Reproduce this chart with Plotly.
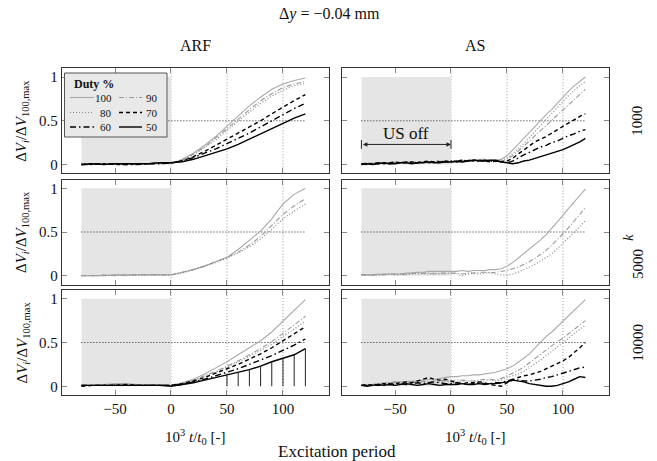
import plotly.graph_objects as go
from plotly.subplots import make_subplots

W, H = 657, 461
FONT = "Liberation Serif, Times New Roman, serif"

# ---------------- data ----------------
X10 = [-80, -70, -60, -50, -40, -30, -20, -10, 0, 10, 20, 30, 40, 50, 60, 70, 80, 90, 100, 110, 120]
X5 = [-80, -75, -70, -65, -60, -55, -50, -45, -40, -35, -30, -25, -20, -15, -10, -5, 0,
      5, 10, 15, 20, 25, 30, 35, 40, 45, 50, 55, 60, 65, 70, 75, 80, 85, 90, 95, 100, 105, 110, 115, 120]
DUTIES = [100, 90, 80, 70, 60, 50]

ARF1000_100 = [0.00,0.01,0.01,0.00,0.01,0.01,0.01,0.02,0.01,0.06,0.13,0.22,0.32,0.44,0.56,0.67,0.77,0.86,0.92,0.96,0.99]
ARF1000_90 = [0.00,0.00,0.01,0.01,0.00,0.01,0.01,0.01,0.01,0.05,0.12,0.20,0.30,0.41,0.52,0.63,0.73,0.81,0.88,0.92,0.95]
ARF1000_80 = [0.00,0.01,0.00,0.01,0.01,0.00,0.01,0.02,0.01,0.05,0.11,0.19,0.28,0.39,0.50,0.60,0.70,0.78,0.85,0.90,0.93]
ARF1000_70 = [0.00,0.01,0.01,0.00,0.00,0.01,0.01,0.02,0.02,0.04,0.09,0.15,0.22,0.29,0.36,0.43,0.50,0.58,0.66,0.73,0.80]
ARF1000_60 = [0.00,0.00,0.01,0.01,0.00,0.00,0.01,0.01,0.02,0.04,0.08,0.13,0.18,0.24,0.30,0.36,0.43,0.50,0.57,0.64,0.70]
ARF1000_50 = [0.00,0.01,0.00,0.01,0.01,0.01,0.01,0.02,0.02,0.03,0.06,0.10,0.14,0.18,0.23,0.29,0.35,0.41,0.47,0.53,0.58]

ARF5000_100 = [0.00,0.00,0.00,0.01,0.01,0.01,0.01,0.01,0.01,0.04,0.07,0.11,0.16,0.21,0.30,0.40,0.51,0.65,0.82,0.93,1.00]
ARF5000_90 = [0.00,0.00,0.01,0.00,0.01,0.01,0.01,0.01,0.01,0.04,0.07,0.11,0.16,0.21,0.27,0.35,0.45,0.57,0.70,0.80,0.88]
ARF5000_80 = [0.00,0.00,0.00,0.01,0.00,0.01,0.01,0.01,0.01,0.03,0.07,0.11,0.15,0.20,0.26,0.33,0.42,0.53,0.65,0.74,0.82]

ARF10000_100 = [0.01,0.01,0.02,0.03,0.03,0.02,0.02,0.02,0.01,0.04,0.08,0.14,0.21,0.28,0.36,0.44,0.52,0.62,0.74,0.86,0.99]
ARF10000_90 = [0.01,0.01,0.02,0.02,0.02,0.02,0.01,0.02,0.01,0.03,0.07,0.12,0.17,0.23,0.29,0.36,0.43,0.51,0.60,0.70,0.80]
ARF10000_80 = [0.01,0.01,0.01,0.02,0.02,0.02,0.02,0.01,0.01,0.03,0.06,0.11,0.16,0.22,0.28,0.34,0.41,0.48,0.57,0.65,0.74]
ARF10000_70 = [0.00,0.01,0.01,0.01,0.02,0.01,0.01,0.01,0.01,0.03,0.06,0.10,0.15,0.20,0.25,0.31,0.37,0.44,0.52,0.60,0.68]
ARF10000_60 = [0.01,0.01,0.01,0.01,0.01,0.01,0.01,0.01,0.01,0.02,0.05,0.08,0.12,0.16,0.20,0.25,0.30,0.35,0.41,0.47,0.54]
ARF10000_50 = [0.01,0.01,0.01,0.01,0.01,0.01,0.01,0.01,0.00,0.02,0.04,0.07,0.10,0.13,0.16,0.19,0.23,0.28,0.32,0.36,0.43]
STEM_X = [50, 60, 70, 80, 90, 100, 110, 120]

AS1000_100 = [0.01,0.01,0.02,0.01,0.02,0.02,0.03,0.02,0.03,0.03,0.02,0.03,0.03,0.02,0.03,0.03,0.03,
              0.03,0.04,0.04,0.05,0.06,0.06,0.05,0.05,0.06,0.10,0.16,0.23,0.30,0.37,0.43,0.50,0.57,0.63,0.70,0.78,0.84,0.90,0.95,1.00]
AS1000_90 = [0.01,0.02,0.01,0.02,0.01,0.02,0.02,0.03,0.02,0.02,0.03,0.02,0.03,0.03,0.04,0.03,0.03,
             0.04,0.03,0.04,0.05,0.05,0.04,0.05,0.04,0.04,0.06,0.10,0.15,0.21,0.27,0.33,0.39,0.45,0.51,0.57,0.63,0.69,0.75,0.81,0.86]
AS1000_80 = [0.01,0.01,0.01,0.02,0.02,0.01,0.02,0.02,0.03,0.02,0.03,0.03,0.02,0.03,0.03,0.04,0.03,
             0.03,0.04,0.05,0.04,0.05,0.05,0.04,0.05,0.05,0.07,0.12,0.18,0.24,0.31,0.38,0.45,0.52,0.59,0.66,0.73,0.79,0.85,0.90,0.95]
AS1000_70 = [0.00,0.01,0.01,0.02,0.01,0.02,0.03,0.02,0.02,0.03,0.02,0.03,0.04,0.03,0.03,0.04,0.03,
             0.04,0.05,0.04,0.05,0.05,0.04,0.03,0.04,0.03,0.04,0.07,0.12,0.17,0.21,0.26,0.29,0.32,0.36,0.40,0.44,0.48,0.52,0.55,0.58]
AS1000_60 = [0.01,0.00,0.01,0.01,0.02,0.01,0.02,0.02,0.03,0.02,0.02,0.03,0.02,0.03,0.04,0.03,0.04,
             0.03,0.04,0.05,0.04,0.04,0.05,0.04,0.04,0.03,0.02,0.04,0.08,0.11,0.14,0.17,0.20,0.22,0.25,0.27,0.30,0.33,0.35,0.38,0.40]
AS1000_50 = [0.00,0.01,0.00,0.01,0.02,0.01,0.01,0.02,0.02,0.01,0.02,0.02,0.03,0.02,0.02,0.03,0.03,
             0.04,0.03,0.04,0.05,0.04,0.04,0.05,0.05,0.03,0.02,0.01,0.02,0.04,0.05,0.07,0.09,0.11,0.13,0.15,0.17,0.20,0.23,0.26,0.30]

AS5000_100 = [0.01,0.01,0.01,0.02,0.01,0.02,0.02,0.02,0.03,0.03,0.04,0.04,0.05,0.05,0.05,0.05,0.05,
              0.05,0.06,0.05,0.06,0.06,0.06,0.07,0.07,0.08,0.11,0.15,0.20,0.25,0.31,0.36,0.41,0.47,0.54,0.61,0.69,0.77,0.84,0.92,0.99]
AS5000_90 = [0.01,0.01,0.01,0.01,0.02,0.02,0.02,0.01,0.02,0.03,0.02,0.03,0.03,0.02,0.03,0.03,0.03,
             0.03,0.02,0.03,0.03,0.04,0.04,0.03,0.04,0.05,0.06,0.08,0.10,0.13,0.16,0.20,0.24,0.29,0.35,0.41,0.48,0.55,0.62,0.70,0.78]
AS5000_80 = [0.01,0.01,0.00,0.01,0.01,0.02,0.01,0.02,0.01,0.02,0.03,0.02,0.02,0.03,0.02,0.02,0.03,
             0.02,0.00,0.02,0.03,0.02,0.03,0.04,0.02,0.01,0.01,0.02,0.04,0.07,0.10,0.13,0.17,0.21,0.25,0.31,0.37,0.44,0.50,0.56,0.63]

AS10000_100 = [0.01,0.01,0.02,0.03,0.04,0.04,0.05,0.05,0.05,0.06,0.06,0.07,0.08,0.08,0.09,0.10,0.11,
               0.11,0.12,0.12,0.13,0.13,0.14,0.15,0.16,0.18,0.20,0.23,0.27,0.32,0.37,0.44,0.51,0.57,0.62,0.68,0.74,0.80,0.86,0.93,0.99]
AS10000_90 = [0.01,0.02,0.02,0.03,0.03,0.04,0.05,0.04,0.05,0.04,0.05,0.06,0.05,0.06,0.07,0.06,0.06,
              0.07,0.07,0.06,0.06,0.07,0.08,0.08,0.07,0.09,0.12,0.15,0.18,0.22,0.27,0.32,0.37,0.41,0.46,0.51,0.55,0.60,0.65,0.70,0.75]
AS10000_80 = [0.01,0.01,0.02,0.02,0.03,0.03,0.04,0.03,0.04,0.05,0.04,0.05,0.05,0.04,0.05,0.06,0.05,
              0.05,0.06,0.06,0.06,0.05,0.06,0.07,0.06,0.07,0.10,0.12,0.14,0.17,0.21,0.25,0.30,0.35,0.40,0.45,0.49,0.54,0.59,0.64,0.70]
AS10000_70 = [0.01,0.02,0.01,0.02,0.03,0.02,0.03,0.04,0.05,0.04,0.06,0.08,0.10,0.08,0.07,0.08,0.06,
              0.04,0.03,0.04,0.04,0.05,0.04,0.02,0.01,0.00,0.04,0.07,0.10,0.12,0.13,0.15,0.17,0.20,0.23,0.26,0.29,0.33,0.38,0.44,0.50]
AS10000_60 = [0.01,0.01,0.02,0.01,0.02,0.03,0.02,0.03,0.02,0.03,0.04,0.03,0.04,0.05,0.04,0.03,0.03,
              0.04,0.03,0.02,0.03,0.04,0.03,0.03,0.04,0.04,0.06,0.08,0.07,0.06,0.06,0.07,0.08,0.10,0.11,0.13,0.15,0.17,0.19,0.21,0.22]
AS10000_50 = [0.01,0.00,0.01,0.02,0.01,0.02,0.01,0.02,0.03,0.02,0.01,0.02,0.03,0.02,0.01,0.02,0.02,
              0.02,0.03,0.02,0.02,0.03,0.02,0.03,0.03,0.04,0.05,0.07,0.06,0.05,0.03,0.02,0.01,0.00,0.00,0.01,0.03,0.05,0.08,0.11,0.10]

X_TICKS = [-50, 0, 50, 100]
Y_TICKS = [0, 0.5, 1]
Y_TICKTEXT = ["0", "0.5", "1"]
V_GUIDES = [0, 50, 100]
H_GUIDE = 0.5
SHADE_X = [-80, 0]
SHADE_Y = [0, 1]
X_RANGE = [-97.5, 141]
Y_RANGE = [-0.1, 1.1]
K_LABELS = ["1000", "5000", "10000"]

# ---------------- styles ----------------
STYLE = {
    100: dict(color="#aaaaaa", width=1.1, dash="solid"),
    90: dict(color="#999999", width=1.1, dash="5px,2px,1px,2px"),
    80: dict(color="#8a8a8a", width=1.2, dash="1px,2px"),
    70: dict(color="#000000", width=1.4, dash="4px,3px"),
    60: dict(color="#000000", width=1.4, dash="6px,3px,1.5px,3px"),
    50: dict(color="#000000", width=1.4, dash="solid"),
}

panels = {
    (1, 1): (X10, {100: ARF1000_100, 90: ARF1000_90, 80: ARF1000_80, 70: ARF1000_70, 60: ARF1000_60, 50: ARF1000_50}),
    (1, 2): (X5, {100: AS1000_100, 90: AS1000_90, 80: AS1000_80, 70: AS1000_70, 60: AS1000_60, 50: AS1000_50}),
    (2, 1): (X10, {100: ARF5000_100, 90: ARF5000_90, 80: ARF5000_80}),
    (2, 2): (X5, {100: AS5000_100, 90: AS5000_90, 80: AS5000_80}),
    (3, 1): (X10, {100: ARF10000_100, 90: ARF10000_90, 80: ARF10000_80, 70: ARF10000_70, 60: ARF10000_60, 50: ARF10000_50}),
    (3, 2): (X5, {100: AS10000_100, 90: AS10000_90, 80: AS10000_80, 70: AS10000_70, 60: AS10000_60, 50: AS10000_50}),
}

def px(x):
    return x / W

def py(y):
    return 1 - y / H

X_DOM = {1: [px(61.8), px(328.9)], 2: [px(341.8), px(608.9)]}
Y_DOM = {1: [py(173.3), py(68.3)], 2: [py(284.5), py(179.5)], 3: [py(395.0), py(290.0)]}

fig = make_subplots(rows=3, cols=2)

def axis_id(r, c):
    return (r - 1) * 2 + c

shapes = []
for (r, c), (xs, series) in panels.items():
    n = axis_id(r, c)
    xr = "x" if n == 1 else f"x{n}"
    yr = "y" if n == 1 else f"y{n}"
    shapes.append(dict(type="rect", xref=xr, yref=yr, x0=SHADE_X[0], x1=SHADE_X[1],
                       y0=SHADE_Y[0], y1=SHADE_Y[1], fillcolor="#e5e5e5", line=dict(width=0), layer="below"))
    for v in V_GUIDES:
        shapes.append(dict(type="line", xref=xr, yref=f"{yr} domain", x0=v, x1=v, y0=0, y1=1,
                           line=dict(color="#9a9a9a", width=1, dash="1px,2px"), layer="below"))
    shapes.append(dict(type="line", xref=xr, yref=yr, x0=SHADE_X[0], x1=max(xs), y0=H_GUIDE, y1=H_GUIDE,
                       line=dict(color="#222222", width=1, dash="1px,2px"), layer="below"))
    for d in DUTIES:
        if d in series:
            st = STYLE[d]
            fig.add_trace(go.Scatter(x=xs, y=series[d], mode="lines", showlegend=False, hoverinfo="skip",
                                     line=dict(color=st["color"], width=st["width"], dash=st["dash"])),
                          row=r, col=c)

# comb lines under the 50 % curve (ARF, k = 10000)
sx, sy = [], []
for xv in STEM_X:
    v = ARF10000_50[X10.index(xv)]
    sx += [xv, xv, None]
    sy += [0, v, None]
fig.add_trace(go.Scatter(x=sx, y=sy, mode="lines", showlegend=False, hoverinfo="skip",
                         line=dict(color="#222222", width=1)), row=3, col=1)

for r in (1, 2, 3):
    for c in (1, 2):
        fig.update_xaxes(row=r, col=c, domain=X_DOM[c], range=X_RANGE, tickvals=X_TICKS,
                         showticklabels=(r == 3), ticks="inside", ticklen=5, tickcolor="#888888",
                         showline=True, linecolor="#333333", linewidth=1, mirror="ticks",
                         showgrid=False, zeroline=False,
                         tickfont=dict(family=FONT, size=15, color="#111111"))
        fig.update_yaxes(row=r, col=c, domain=Y_DOM[r], range=Y_RANGE, tickvals=Y_TICKS, ticktext=Y_TICKTEXT,
                         showticklabels=(c == 1), ticks="inside", ticklen=5, tickcolor="#888888",
                         showline=True, linecolor="#333333", linewidth=1, mirror="ticks",
                         showgrid=False, zeroline=False,
                         tickfont=dict(family=FONT, size=15, color="#111111"))

# "US off" arrow in AS, k=1000
shapes.append(dict(type="line", xref="x2", yref="y2", x0=SHADE_X[0], x1=SHADE_X[0], y0=0.18, y1=0.28,
                   line=dict(color="#222222", width=1)))
shapes.append(dict(type="line", xref="x2", yref="y2", x0=SHADE_X[1], x1=SHADE_X[1], y0=0.18, y1=0.28,
                   line=dict(color="#222222", width=1)))

ann = []
ann.append(dict(x=SHADE_X[1], y=0.23, ax=SHADE_X[0], ay=0.23, xref="x2", yref="y2", axref="x2", ayref="y2",
                text="", showarrow=True, arrowhead=2, arrowside="end+start", arrowsize=0.9,
                arrowwidth=1, arrowcolor="#222222"))
ann.append(dict(x=(SHADE_X[0] + SHADE_X[1]) / 2, y=0.36, xref="x2", yref="y2", text="US off",
                showarrow=False, font=dict(family=FONT, size=17, color="#111111")))

# legend box (drawn by hand)
shapes.append(dict(type="rect", xref="paper", yref="paper", x0=px(64.5), x1=px(167), y0=py(137), y1=py(73),
                   fillcolor="#e9e9e9", line=dict(color="#555555", width=1)))
ann.append(dict(x=px(72), y=py(84.5), xref="paper", yref="paper", text="<b>Duty %</b>", showarrow=False,
                xanchor="left", yanchor="middle", font=dict(family=FONT, size=12, color="#111111")))
leg_rows = [(100, 90, 97.5), (80, 70, 112.5), (60, 50, 127)]
for dl, dr, yy in leg_rows:
    for d, x0, x1, xt in ((dl, 70, 94, 114), (dr, 119, 142, 160)):
        st = STYLE[d]
        shapes.append(dict(type="line", xref="paper", yref="paper", x0=px(x0), x1=px(x1), y0=py(yy), y1=py(yy),
                           line=dict(color=st["color"], width=st["width"], dash=st["dash"])))
        ann.append(dict(x=px(xt), y=py(yy), xref="paper", yref="paper", text=str(d), showarrow=False,
                        xanchor="right", yanchor="middle", font=dict(family=FONT, size=11, color="#111111")))

def text(x, y, s, size, angle=0):
    ann.append(dict(x=px(x), y=py(y), xref="paper", yref="paper", text=s, showarrow=False,
                    xanchor="center", yanchor="middle", textangle=angle,
                    font=dict(family=FONT, size=size, color="#111111")))

text(329, 14, "Δ<i>y</i> = −0.04 mm", 16)
text(195, 45, "ARF", 16)
text(475, 45, "AS", 16)
ylab = "Δ<i>V</i><sub><i>i</i></sub>/Δ<i>V</i><sub>100,max</sub>"
for yc in (120.8, 232, 342.5):
    text(22, yc, ylab, 15, -90)
xlab = "10<sup>3</sup> <i>t</i>/<i>t</i><sub>0</sub> [-]"
text(195, 437, xlab, 15)
text(475, 437, xlab, 15)
text(337, 451, "Excitation period", 17)
text(637, 120.8, K_LABELS[0], 15, -90)
text(628, 238, "<i>k</i>", 15, -90)
text(638, 264, K_LABELS[1], 15, -90)
text(637, 342.5, K_LABELS[2], 15, -90)

fig.update_layout(width=W, height=H, margin=dict(l=0, r=0, t=0, b=0),
                  paper_bgcolor="white", plot_bgcolor="white",
                  shapes=shapes, annotations=ann, showlegend=False, hovermode=False,
                  font=dict(family=FONT, color="#111111"))

fig.write_html("out.html", config={"displayModeBar": False, "staticPlot": True},
               post_script="document.body.style.margin='0px';document.body.style.overflow='hidden';")
